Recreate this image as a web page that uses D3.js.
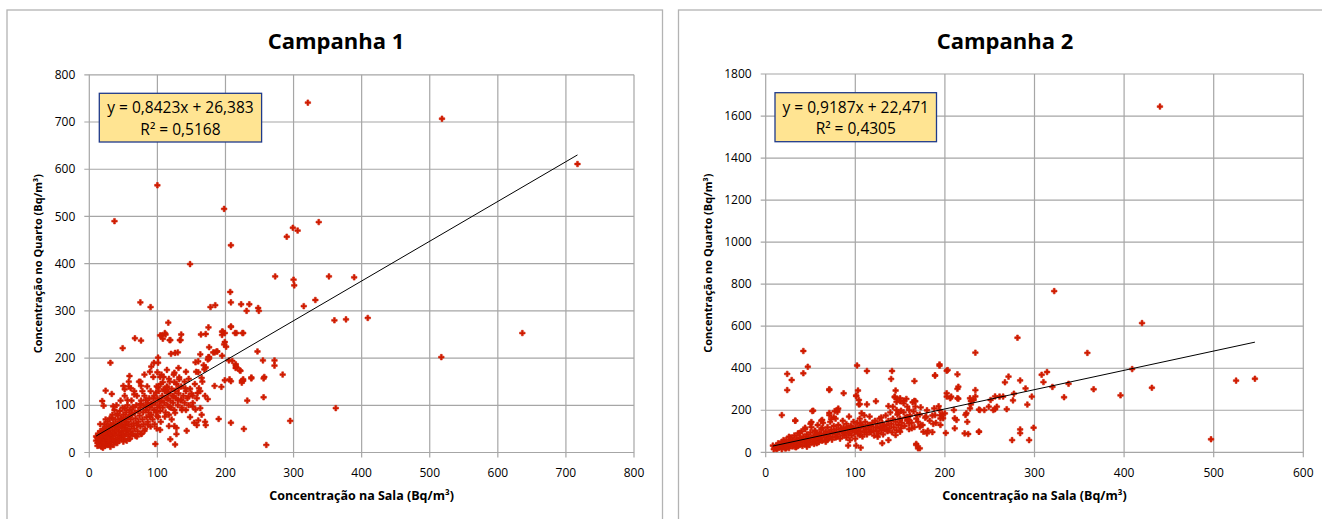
<!DOCTYPE html>
<html>
<head>
<meta charset="utf-8">
<script src="https://cdn.jsdelivr.net/npm/d3@7"></script>
<style>
  body{margin:0;background:#fff;}
  svg{display:block;}
  text{font-family:"Open Sans","Noto Sans",sans-serif;fill:#000;}
</style>
</head>
<body>
<svg id="chart" width="1322" height="519"></svg>
<script>
// data ------------------------------------------------------------

// Campanha 1 : [sala, quarto] in Bq/m3
var camp1Points=[
  [37,490],[100,566],[198,516],[208,439],[148,399],[290,457],[299,476],[306,470],[337,488],
  [321,741],[518,707],[717,611],[273,373],[300,366],[301,354],[352,373],[389,371],[315,310],
  [332,323],[360,280],[377,282],[409,285],[636,253],[517,202],[362,94],[295,67],[260,16],
  [207,340],[208,318],[223,314],[235,314],[248,306],[249,300],[231,300],[178,308],[185,312],
  [75,318],[90,308],[31,190],[49,221],[67,242],[76,237],[116,275],[111,253],[106,248],[135,250],
  [134,238],[118,238],[175,265],[171,251],[164,250],[195,256],[195,249],[199,234],[208,266],
  [216,253],[225,253],[247,214],[255,195],[272,195],[272,184],[284,165],[257,160],[205,195],
  [215,184],[215,179],[222,173],[224,152],[226,155],[206,155],[238,159],[232,110],[256,117],
  [208,63],[227,50],[190,71],[194,139],[184,141],[174,113],[170,65],[195,205],[187,214],
  [182,212],[176,199],[176,202],
  [104,248],[112,250],[108,241],[119,238],[133,238],[120,209],[126,211],[130,212],[101,201],
  [95,190],[101,190],[104,160],[106,165],[89,171],[91,182],[81,165],[75,150],[76,141],[58,150],
  [59,162],[50,141],[52,134],[61,136],[66,123],[24,131],[33,124],[19,109],[21,99],[35,98],
  [41,82],[33,73],[16,60],[10,34],[15,20],[30,16],[97,18],[126,17],[119,28],[128,39],[143,46],
  [158,58],[154,63],[171,58],[160,68],[165,80],[163,94],[156,91],[152,97],[142,90],[148,75],
  [126,84],[136,90],[118,96],[121,70],[125,56],[117,56],[128,52],[105,65],[99,51],[104,48],
  [111,76],[100,77],[89,76],[86,59],[76,39],[81,46],[70,34],[59,29],[62,39],[50,23],[41,26],
  [55,46],[46,37],[37,40],[27,34],[23,23],[18,34],[22,46],[29,56],[24,70],[39,55],[47,70],
  [53,72],[58,75],[62,83],[52,94],[56,111],[64,96],[75,103],[84,98],[83,111],[91,104],[94,114],
  [101,138],[98,127],[109,134],[114,138],[116,129],[124,119],[130,111],[135,112],[115,114],
  [104,109],[117,156],[108,149],[125,149],[114,175],[125,169],[131,179],[132,159],[142,171],
  [146,156],[157,171],[156,191],[160,193],[168,185],[171,180],[169,176],[175,202],[174,197],
  [163,208],[176,223],[184,212],[188,214],[196,256],[199,253],[198,229],[201,224],[208,267],
  [214,253],[226,253],[210,194],[215,187],[216,181],[221,174],[256,157],[226,152],[224,148],
  [238,157],[208,151],[199,153],[165,158],[141,136],[131,136],[161,136],[152,120],[159,126],
  [146,119],
  [12,20],[13,28],[14,15],[15,35],[16,22],[17,30],[18,12],[18,42],[19,25],[20,18],[20,50],
  [21,33],[22,27],[22,60],[23,14],[24,40],[24,20],[25,30],[25,55],[26,45],[27,24],[27,65],
  [28,35],[28,18],[29,50],[30,28],[30,72],[31,40],[31,12],[32,58],[33,22],[33,35],[34,47],
  [34,80],[35,30],[35,62],[36,16],[36,42],[37,54],[37,90],[38,25],[38,70],[39,36],[40,48],
  [40,100],[41,60],[41,20],[42,30],[42,78],[43,44],[43,52],[44,66],[44,25],[45,88],[45,38],
  [46,55],[46,110],[47,32],[47,72],[48,46],[48,60],[49,95],[50,28],[50,40],[50,80],[51,52],
  [51,68],[52,35],[52,120],[53,58],[54,45],[54,85],[55,25],[55,65],[56,100],[56,50],[57,38],
  [57,75],[58,60],[58,140],[59,90],[60,45],[60,30],[61,70],[62,55],[62,110],[63,80],[64,40],
  [64,95],[65,62],[66,50],[66,130],[67,85],[68,72],[68,35],[69,100],[70,58],[70,120],[71,45],
  [72,88],[72,65],[73,150],[74,78],[75,95],[75,55],[76,110],[77,40],[78,70],[78,130],[79,85],
  [80,100],[80,60],[81,120],[82,50],[83,90],[84,75],[85,140],[86,105],[86,65],[87,85],[88,115],
  [89,95],[90,55],[90,130],[91,80],[92,100],[93,70],[94,160],[95,90],[95,120],[96,60],[97,105],
  [98,85],[99,140],[100,95],[100,115],[100,170],[101,75],[102,130],[103,100],[104,88],[105,145],
  [106,110],[107,120],[108,95],[109,160],[110,105],[111,130],[112,85],[113,115],[114,140],
  [115,100],[116,125],[117,80],[118,150],[119,110],[120,95],[121,135],[122,120],[123,105],
  [124,165],[125,90],[126,130],[127,115],[128,145],[130,100],[131,125],[132,155],[134,110],
  [135,140],[136,95],[138,120],[140,150],[140,105],[142,130],[144,115],[146,100],[148,135],
  [150,125],[152,105],[155,145],[158,115],[160,170],[163,130],[166,150],[170,120],
  [10,25],[11,32],[12,14],[13,40],[14,22],[15,18],[16,45],[17,14],[19,36],[21,22],[23,47],
  [26,16],[29,38],[32,26],[15,28],[18,34],[22,40],[26,32],[20,10],[28,26]
];

// Campanha 2 : [sala, quarto] in Bq/m3
var camp2Points=[
  [440,1645],[322,767],[420,615],[281,545],[234,474],[359,473],[409,396],[431,307],[396,271],
  [366,300],[338,326],[333,262],[320,311],[310,334],[308,369],[314,382],[525,341],[546,350],
  [497,62],[299,117],[294,58],[275,58],[284,109],[284,91],[297,265],[292,227],[290,304],
  [284,342],[271,360],[267,333],[277,279],[276,247],[269,205],[265,265],[256,266],[251,249],
  [256,205],[244,201],[238,203],[234,266],[238,98],[226,87],[229,228],[229,244],[224,186],
  [225,145],[215,255],[214,302],[214,371],[202,388],[211,162],[207,265],[202,281],[201,92],
  [198,162],[194,412],[195,176],[189,366],[193,219],[189,177],[195,130],[186,96],[181,103],
  [179,170],[173,128],[173,214],[166,339],[170,19],[168,40],[141,387],[113,387],[102,413],
  [103,294],[101,270],[105,229],[123,243],[107,186],[110,176],[87,281],[71,300],[47,407],
  [42,482],[42,376],[24,373],[29,344],[24,296],[18,177],[52,196],[51,144],[33,151],[71,187],
  [81,208],[80,192],[76,167],[63,154],[140,349],[145,294],[144,262],[146,240],[150,257],
  [154,246],[158,217],[151,198],[164,238],[166,245],[148,189],[160,154],
  [53,198],[71,296],[33,150],[44,117],[50,136],[62,150],[71,177],[73,158],[80,201],[77,196],
  [63,116],[55,103],[38,93],[26,74],[20,58],[14,43],[8,32],[12,16],[23,20],[34,24],[46,27],
  [57,43],[68,58],[79,74],[92,32],[101,32],[106,22],[94,58],[105,82],[88,90],[95,122],[106,138],
  [116,130],[117,98],[125,74],[128,114],[129,166],[137,220],[101,268],[104,249],[104,228],
  [113,228],[144,265],[147,254],[150,243],[142,217],[146,201],[154,233],[157,254],[167,243],
  [167,217],[160,201],[169,178],[160,138],[163,114],[150,98],[145,82],[137,58],[130,43],
  [136,106],[150,154],[158,169],[172,122],[176,98],[180,90],[168,35],[172,19],[187,135],
  [195,161],[197,182],[194,201],[188,209],[203,391],[194,418],[189,365],[202,265],[206,257],
  [215,312],[214,257],[210,201],[200,185],[213,154],[211,114],[222,90],[223,178],[228,209],
  [232,249],[234,296],[239,201],[238,98],[228,257],[249,217],[254,201],[261,265],[258,217],
  [9,15],[10,25],[11,20],[12,30],[13,18],[14,35],[15,22],[16,28],[17,40],[18,15],[18,50],
  [19,30],[20,24],[21,45],[22,35],[22,18],[23,60],[24,28],[25,40],[26,52],[26,20],[27,34],
  [28,70],[29,45],[30,28],[30,58],[31,38],[32,80],[33,50],[33,25],[34,62],[35,42],[36,30],
  [36,90],[37,55],[38,70],[38,35],[39,48],[40,100],[40,60],[41,30],[42,75],[43,52],[44,40],
  [44,110],[45,65],[46,85],[47,45],[47,55],[48,72],[49,35],[50,95],[50,60],[51,120],[52,50],
  [53,78],[54,66],[54,40],[55,100],[56,58],[57,85],[58,70],[58,130],[59,48],[60,92],[61,62],
  [62,110],[62,78],[63,55],[64,140],[65,88],[66,70],[67,100],[67,50],[68,82],[69,120],[70,65],
  [71,95],[72,75],[72,145],[73,108],[74,60],[75,88],[76,125],[77,98],[78,70],[78,160],[79,110],
  [80,85],[81,130],[82,95],[83,65],[84,115],[85,100],[86,150],[86,80],[87,120],[88,92],[89,105],
  [90,135],[90,70],[91,115],[92,88],[93,170],[94,100],[95,125],[96,80],[97,110],[98,145],
  [99,95],[100,120],[100,65],[101,105],[102,140],[103,88],[104,115],[105,160],[106,100],
  [107,130],[108,75],[109,118],[110,95],[111,145],[112,108],[113,85],[114,130],[115,110],
  [116,170],[117,95],[118,125],[119,140],[120,105],[121,80],[122,150],[123,118],[124,100],
  [125,135],[126,90],[127,160],[128,120],[129,105],[130,140],[131,85],[132,125],[133,110],
  [134,175],[135,130],[136,100],[137,150],[138,115],[139,190],[140,135],[141,95],[142,160],
  [143,120],[145,145],[146,105],[147,180],[148,130],[150,160],[151,115],[152,140],[154,190],
  [155,125],[156,165],[158,150],[160,110],[161,175],[163,140],[165,195],[166,120],[168,160],
  [170,145],[172,180],[175,130],[178,165],[180,200],[183,150],[186,175],[190,140]
];

// linear trendlines [slope, intercept] and R2
var camp1Fit=[0.8423,26.383];
var camp2Fit=[0.9187,22.471];
var camp1Labels=['y = 0,8423x + 26,383','R² = 0,5168'];
var camp2Labels=['y = 0,9187x + 22,471','R² = 0,4305'];

// axes
var camp1XTicks=[0,100,200,300,400,500,600,700,800];
var camp1YTicks=[0,100,200,300,400,500,600,700,800];
var camp2XTicks=[0,100,200,300,400,500,600];
var camp2YTicks=[0,200,400,600,800,1000,1200,1400,1600,1800];
var titles=['Campanha 1','Campanha 2'];
var xTitle='Concentração na Sala (Bq/m³)';
var yTitle='Concentração no Quarto (Bq/m³)';


// layout ----------------------------------------------------------
var svg=d3.select('#chart');
var gridColor='#a6a6a6';
var markColor='#d01c00';

var panels=[
  {title:titles[0],points:camp1Points,fit:camp1Fit,labels:camp1Labels,xt:camp1XTicks,yt:camp1YTicks,
   frame:[7,10,662.5,530],plot:[89.3,74.8,634,452.5],box:[99.3,93.3,261.6,142],yTitleX:38,titleX:336},
  {title:titles[1],points:camp2Points,fit:camp2Fit,labels:camp2Labels,xt:camp2XTicks,yt:camp2YTicks,
   frame:[678.5,10,1340,530],plot:[765.7,74,1303.3,452.3],box:[775,92.7,936.5,141.7],yTitleX:708,titleX:1005}
];

panels.forEach(function(p){drawPanel(p);});

function drawPanel(p){
  var f=p.frame,pl=p.plot,b=p.box;
  var g=svg.append('g');

  // chart frame
  g.append('rect')
    .attr('x',f[0]).attr('y',f[1]).attr('width',f[2]-f[0]).attr('height',f[3]-f[1])
    .attr('fill','#fff').attr('stroke','#b3b3b3').attr('stroke-width',1.3);

  var x=d3.scaleLinear().domain(d3.extent(p.xt)).range([pl[0],pl[2]]);
  var y=d3.scaleLinear().domain(d3.extent(p.yt)).range([pl[3],pl[1]]);

  // gridlines
  g.append('g').selectAll('line').data(p.xt).join('line')
    .attr('x1',d=>x(d)).attr('x2',d=>x(d)).attr('y1',pl[1]).attr('y2',pl[3]+5)
    .attr('stroke',gridColor).attr('stroke-width',1.2);
  g.append('g').selectAll('line').data(p.yt).join('line')
    .attr('x1',pl[0]-5).attr('x2',pl[2]).attr('y1',d=>y(d)).attr('y2',d=>y(d))
    .attr('stroke',gridColor).attr('stroke-width',1.2);

  // tick labels
  g.append('g').selectAll('text').data(p.xt).join('text')
    .attr('x',d=>x(d)).attr('y',pl[3]+24.5)
    .attr('text-anchor','middle').attr('font-size',12).text(d=>d);
  g.append('g').selectAll('text').data(p.yt).join('text')
    .attr('x',pl[0]-14).attr('y',d=>y(d)).attr('dy','0.35em')
    .attr('text-anchor','end').attr('font-size',12).text(d=>d);

  // points
  var sym=d3.symbol().type(d3.symbolCross).size(17);
  g.append('g').selectAll('path').data(p.points).join('path')
    .attr('d',sym)
    .attr('transform',d=>`translate(${x(d[0])},${y(d[1])})`)
    .attr('fill',markColor).attr('stroke',markColor).attr('stroke-width',0.6);

  // trendline over data range
  var ext=d3.extent(p.points,d=>d[0]);
  g.append('line')
    .attr('x1',x(ext[0])).attr('y1',y(p.fit[0]*ext[0]+p.fit[1]))
    .attr('x2',x(ext[1])).attr('y2',y(p.fit[0]*ext[1]+p.fit[1]))
    .attr('stroke','#000').attr('stroke-width',1);

  // equation box
  g.append('rect')
    .attr('x',b[0]).attr('y',b[1]).attr('width',b[2]-b[0]).attr('height',b[3]-b[1])
    .attr('fill','#ffe492').attr('stroke','#1f3a8a').attr('stroke-width',1.3);
  var cx=(b[0]+b[2])/2;
  g.append('text').attr('x',cx).attr('y',b[1]+20).attr('text-anchor','middle')
    .attr('font-size',15.5).text(p.labels[0]);
  g.append('text').attr('x',cx).attr('y',b[1]+41.5).attr('text-anchor','middle')
    .attr('font-size',15.5).text(p.labels[1]);

  // titles
  g.append('text').attr('x',p.titleX).attr('y',49)
    .attr('text-anchor','middle').attr('font-size',22).attr('font-weight','bold').text(p.title);
  g.append('text').attr('x',(pl[0]+pl[2])/2).attr('y',500)
    .attr('text-anchor','middle').attr('font-size',12.5).attr('font-weight','bold').text(xTitle);
  g.append('text')
    .attr('transform',`translate(${p.yTitleX+4},${(pl[1]+pl[3])/2})rotate(-90)`)
    .attr('text-anchor','middle').attr('font-size',11).attr('font-weight','bold').text(yTitle);
}
</script>
</body>
</html>
